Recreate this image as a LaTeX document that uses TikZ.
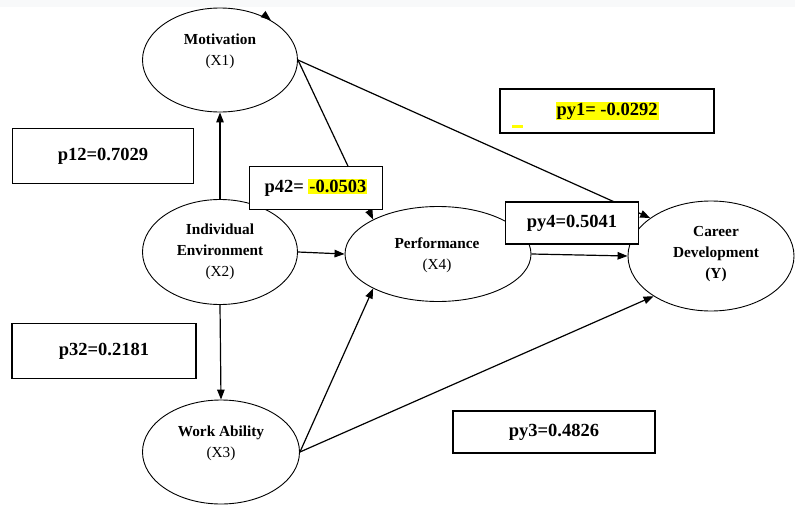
\documentclass[tikz,border=0pt]{standalone}
\usepackage{fontspec}
\setmainfont{Liberation Serif}
\usetikzlibrary{arrows.meta,calc,shapes.geometric}
\definecolor{hl}{RGB}{255,255,0}
\definecolor{strip}{RGB}{248,249,250}
\begin{document}
\begin{tikzpicture}[x=1pt,y=-1pt,
  ell/.style={draw,line width=0.9pt,ellipse,inner sep=0pt},
  lbl/.style={align=center,font=\fontsize{15.3}{21}\selectfont},
  pbox/.style={draw,line width=1.2pt,fill=white,align=center,inner sep=0pt,font=\fontsize{18.5}{22}\selectfont\bfseries},
  conn/.style={line width=1.2pt,-{Triangle[length=10pt,width=7.5pt]}},
  plain/.style={line width=1.2pt}
]
\useasboundingbox (0,0) rectangle (795,506);
\fill[white] (0,0) rectangle (795,506);
% ellipses
\node[ell,minimum width=155pt,minimum height=104pt] (X1) at (220,60) {};
\node[ell,minimum width=155pt,minimum height=105pt] (X2) at (220,252) {};
\node[ell,minimum width=157pt,minimum height=104pt] (X3) at (221,452) {};
\node[ell,minimum width=186pt,minimum height=95pt] (X4) at (438,254) {};
\node[ell,minimum width=166pt,minimum height=110pt] (Y) at (711,256) {};
% labels
\node[lbl] (tX1) at (220,51) {\textbf{Motivation}\\(X1)};
\node[lbl] (tX2) at (220,252) {\textbf{Individual}\\\textbf{Environment}\\(X2)};
\node[lbl] (tX3) at (221,443) {\textbf{Work Ability}\\(X3)};
\node[lbl] (tX4) at (437,255) {\textbf{Performance}\\(X4)};
\node[lbl] (tY) at (716,254) {\textbf{Career}\\\textbf{Development}\\\textbf{(Y)}};
% connectors
\draw[conn] (X2.north) -- (X1.south);
\draw[conn] (X2.south) -- (X3.north);
\draw[conn] (X2.east) -- (X4.west);
\draw[conn] (X1.east) -- (Y.148);
\draw[conn] (X1.east) -- (X4.152);
\draw[conn] (X4.east) -- (Y.west);
\draw[conn] (X3.east) -- (X4.208);
\draw[conn] (X3.east) -- (Y.215);
\coordinate (topfrom) at ($(X1.38)+(-5,-4)$);
\draw[conn] (topfrom) -- (X1.38);
% strip at top
\fill[strip] (0,0) rectangle (795,7);
% boxes
\node[pbox,minimum width=181pt,minimum height=55pt] (p12) at (103,156) {p12=0.7029};
\node[pbox,minimum width=184pt,minimum height=55pt] (p32) at (104,351) {p32=0.2181};
\node[pbox,minimum width=133pt,minimum height=43pt] (p42) at (316,188) {p42= {\setlength{\fboxsep}{1pt}\colorbox{hl}{-0.0503}}};
\node[pbox,minimum width=214pt,minimum height=44pt] (py1) at (607,111) {\setlength{\fboxsep}{1pt}\colorbox{hl}{py1= -0.0292}};
\fill[hl] (512,125) rectangle (523,127.5);
\node[pbox,minimum width=133pt,minimum height=42pt] (py4) at (572,223) {py4=0.5041};
\node[pbox,minimum width=202pt,minimum height=42pt] (py3) at (554,432) {py3=0.4826};
\end{tikzpicture}
\end{document}
